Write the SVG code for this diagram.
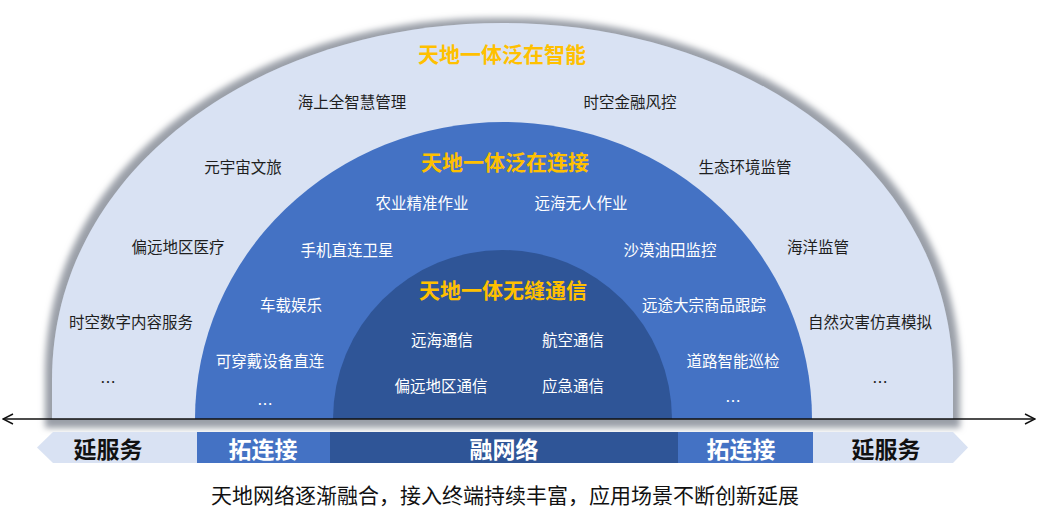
<svg xmlns="http://www.w3.org/2000/svg" width="1039" height="513" viewBox="0 0 1039 513">
<defs>
<style>
text{font-family:"Noto Sans CJK SC","Noto Sans",sans-serif;text-anchor:middle;dominant-baseline:central}
.o{font-size:15.5px;fill:#1e1e1e}
.w{font-size:15.5px;fill:#ffffff}
.t{font-size:21px;fill:#FFC000;font-weight:bold}
.b{font-size:23px;font-weight:bold}
.cap{font-size:21px;fill:#111}
</style>
<filter id="sh" x="-5%" y="-10%" width="110%" height="125%">
<feMorphology in="SourceAlpha" operator="dilate" radius="7" result="d"/>
<feGaussianBlur in="d" stdDeviation="3" result="bl"/>
<feOffset in="bl" dx="0" dy="2" result="of"/>
<feFlood flood-color="#9a9fa8" flood-opacity="1"/>
<feComposite in2="of" operator="in" result="s"/>
<feMerge><feMergeNode in="s"/><feMergeNode in="SourceGraphic"/></feMerge>
</filter>
<marker id="ah" viewBox="0 0 12 12" refX="11" refY="6" markerWidth="12" markerHeight="12" markerUnits="userSpaceOnUse" orient="auto-start-reverse">
<path d="M1,1 L11,6 L1,11" fill="none" stroke="#111" stroke-width="1.4"/>
</marker>
</defs>
<g id="outer">
<path d="M52,419 L52,380 C52,170 258,23 502.5,23 C747,23 953,170 953,380 L953,419 Z" fill="#D9E2F3" filter="url(#sh)"/>
</g>
<g id="middle">
<path d="M195,419 A308.5,297 0 0 1 812,419 Z" fill="#4472C4"/>
</g>
<g id="inner">
<path d="M333,419 A169.5,169 0 0 1 672,419 Z" fill="#2F5597"/>
</g>
<g id="outer-labels">
<text class="t" x="502" y="53">天地一体泛在智能</text>
<text class="o" x="352" y="101">海上全智慧管理</text>
<text class="o" x="630" y="101">时空金融风控</text>
<text class="o" x="243" y="166">元宇宙文旅</text>
<text class="o" x="745" y="166">生态环境监管</text>
<text class="o" x="178" y="246">偏远地区医疗</text>
<text class="o" x="818" y="246">海洋监管</text>
<text class="o" x="131" y="321">时空数字内容服务</text>
<text class="o" x="870" y="321">自然灾害仿真模拟</text>
<text class="o" x="108" y="381" letter-spacing="0">…</text>
<text class="o" x="880" y="381">…</text>
</g>
<g id="middle-labels">
<text class="t" x="505" y="161">天地一体泛在连接</text>
<text class="w" x="422" y="202">农业精准作业</text>
<text class="w" x="581" y="202">远海无人作业</text>
<text class="w" x="347" y="249">手机直连卫星</text>
<text class="w" x="670" y="249">沙漠油田监控</text>
<text class="w" x="291" y="304">车载娱乐</text>
<text class="w" x="704" y="304">远途大宗商品跟踪</text>
<text class="w" x="270" y="360">可穿戴设备直连</text>
<text class="w" x="733" y="360">道路智能巡检</text>
<text class="w" x="265" y="403">…</text>
<text class="w" x="733" y="400">…</text>
</g>
<g id="inner-labels">
<text class="t" x="503" y="289">天地一体无缝通信</text>
<text class="w" x="442" y="339">远海通信</text>
<text class="w" x="573" y="339">航空通信</text>
<text class="w" x="441" y="385">偏远地区通信</text>
<text class="w" x="573" y="385">应急通信</text>
</g>
<g id="connectors">
<line x1="3" y1="419" x2="1035" y2="419" stroke="#111" stroke-width="1.3" marker-start="url(#ah)" marker-end="url(#ah)"/>
</g>
<g id="bar">
<polygon points="37,447.5 53,432 197,432 197,463 53,463" fill="#D9E2F3"/>
<rect x="197" y="432" width="133" height="31" fill="#4472C4"/>
<rect x="330" y="432" width="348" height="31" fill="#2F5597"/>
<rect x="678" y="432" width="135" height="31" fill="#4472C4"/>
<polygon points="813,432 953,432 968,447.5 953,463 813,463" fill="#D9E2F3"/>
<text class="b" x="108" y="448" fill="#111">延服务</text>
<text class="b" x="263" y="448" fill="#fff">拓连接</text>
<text class="b" x="504" y="448" fill="#fff">融网络</text>
<text class="b" x="741" y="448" fill="#fff">拓连接</text>
<text class="b" x="886" y="448" fill="#111">延服务</text>
</g>
<g id="caption">
<text class="cap" x="505" y="494">天地网络逐渐融合，接入终端持续丰富，应用场景不断创新延展</text>
</g>
</svg>
